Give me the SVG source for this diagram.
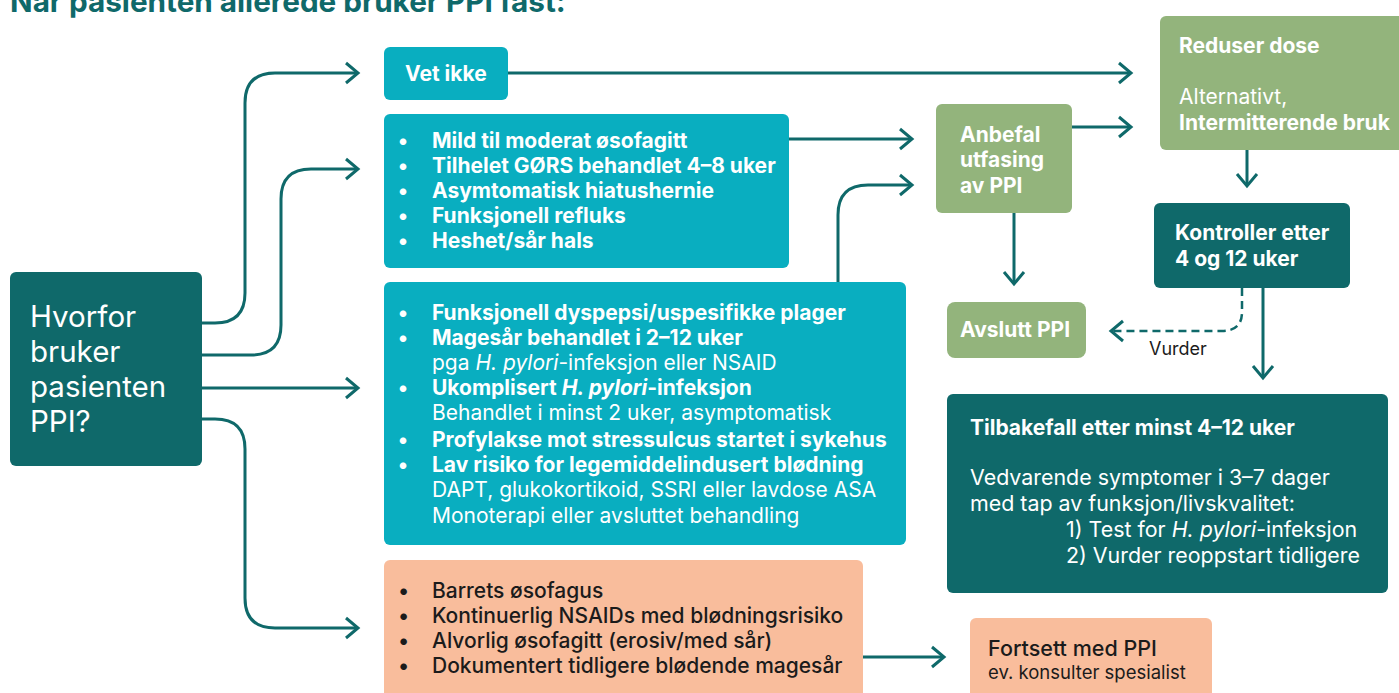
<svg xmlns="http://www.w3.org/2000/svg" width="1399" height="693" viewBox="0 0 1399 693">
<style>
  text { font-family: Inter, "Liberation Sans", sans-serif; }
  .dark { fill: #0f696a; }
  .cyan { fill: #09aec0; }
  .green { fill: #93b47c; }
  .peach { fill: #f9bd9c; }
  .w { fill: #ffffff; }
  .k { fill: #1b1b1b; }
  .b { font-weight: 700; }
  .r { font-weight: 400; }
  .m { font-weight: 500; }
  .i { font-style: italic; }
  .conn { fill: none; stroke: #0f696a; stroke-width: 3; }
  .dash { stroke-dasharray: 8 5; stroke-width: 2.5; }
</style>
<defs>
  <marker id="arr" markerUnits="userSpaceOnUse" viewBox="-15 -13 18 26" markerWidth="18" markerHeight="26" refX="0" refY="0" orient="auto" overflow="visible">
    <path d="M-12,-10 L0,0 L-12,10" fill="none" stroke="#0f696a" stroke-width="3" stroke-linecap="butt" stroke-linejoin="miter"/>
  </marker>
</defs>

<text x="10" y="12" class="b" font-size="29.7" fill="#0f696a">Når pasienten allerede bruker PPI fast:</text>

<g id="connectors">
  <path class="conn" d="M202,323 H215 Q245,323 245,293 V103 Q245,73 275,73 H358" marker-end="url(#arr)"/>
  <path class="conn" d="M202,355 H251 Q281,355 281,325 V199 Q281,169 311,169 H358" marker-end="url(#arr)"/>
  <path class="conn" d="M202,388 H358" marker-end="url(#arr)"/>
  <path class="conn" d="M202,419 H215 Q245,419 245,449 V598 Q245,628 275,628 H358" marker-end="url(#arr)"/>
  <path class="conn" d="M508,73 H1131" marker-end="url(#arr)"/>
  <path class="conn" d="M789,139 H912" marker-end="url(#arr)"/>
  <path class="conn" d="M838,282 V215 Q838,185 868,185 H912" marker-end="url(#arr)"/>
  <path class="conn" d="M1072,127 H1131" marker-end="url(#arr)"/>
  <path class="conn" d="M1247,150 V186" marker-end="url(#arr)"/>
  <path class="conn" d="M1014,213 V284" marker-end="url(#arr)"/>
  <path class="conn" d="M1263,288 V378" marker-end="url(#arr)"/>
  <path class="conn dash" d="M1242,288 V312 Q1242,331 1222,331 H1111" marker-end="url(#arr)"/>
  <path class="conn" d="M863,657 H944" marker-end="url(#arr)"/>
  <text x="1149" y="355" class="r k" font-size="18">Vurder</text>
</g>

<g id="hvorfor">
  <rect x="10" y="272" width="192" height="194" rx="6" class="dark"/>
  <text class="r w" font-size="29.5">
    <tspan x="30" y="327">Hvorfor</tspan>
    <tspan x="30" y="362">bruker</tspan>
    <tspan x="30" y="397">pasienten</tspan>
    <tspan x="30" y="432">PPI?</tspan>
  </text>
</g>

<g id="vet-ikke">
  <rect x="384" y="47" width="124" height="53" rx="6" class="cyan"/>
  <text x="405" y="81" class="b w" font-size="21">Vet ikke</text>
</g>

<g id="gruppe1">
  <rect x="384" y="114" width="405" height="154" rx="6" class="cyan"/>
  <g class="b w" font-size="21">
    <text x="398" y="148">•</text><text x="432" y="148">Mild til moderat øsofagitt</text>
    <text x="398" y="173">•</text><text x="432" y="173">Tilhelet GØRS behandlet 4–8 uker</text>
    <text x="398" y="198">•</text><text x="432" y="198">Asymtomatisk hiatushernie</text>
    <text x="398" y="223">•</text><text x="432" y="223">Funksjonell refluks</text>
    <text x="398" y="248">•</text><text x="432" y="248">Heshet/sår hals</text>
  </g>
</g>

<g id="gruppe2">
  <rect x="384" y="282" width="522" height="263" rx="6" class="cyan"/>
  <g class="w" font-size="21">
    <text x="398" y="320" class="b">•</text><text x="432" y="320" class="b">Funksjonell dyspepsi/uspesifikke plager</text>
    <text x="398" y="345" class="b">•</text><text x="432" y="345" class="b">Magesår behandlet i 2–12 uker</text>
    <text x="432" y="370" class="r">pga <tspan class="i">H. pylori</tspan>-infeksjon eller NSAID</text>
    <text x="398" y="395" class="b">•</text><text x="432" y="395" class="b">Ukomplisert <tspan class="i">H. pylori</tspan>-infeksjon</text>
    <text x="432" y="420" class="r">Behandlet i minst 2 uker, asymptomatisk</text>
    <text x="398" y="447" class="b">•</text><text x="432" y="447" class="b">Profylakse mot stressulcus startet i sykehus</text>
    <text x="398" y="472" class="b">•</text><text x="432" y="472" class="b">Lav risiko for legemiddelindusert blødning</text>
    <text x="432" y="497" class="r">DAPT, glukokortikoid, SSRI eller lavdose ASA</text>
    <text x="432" y="523" class="r">Monoterapi eller avsluttet behandling</text>
  </g>
</g>

<g id="gruppe3">
  <rect x="384" y="560" width="479" height="140" rx="6" class="peach"/>
  <g class="m k" font-size="21">
    <text x="398" y="598">•</text><text x="432" y="598">Barrets øsofagus</text>
    <text x="398" y="623">•</text><text x="432" y="623">Kontinuerlig NSAIDs med blødningsrisiko</text>
    <text x="398" y="648">•</text><text x="432" y="648">Alvorlig øsofagitt (erosiv/med sår)</text>
    <text x="398" y="673">•</text><text x="432" y="673">Dokumentert tidligere blødende magesår</text>
  </g>
</g>

<g id="anbefal">
  <rect x="936" y="104" width="136" height="109" rx="6" class="green"/>
  <text class="b w" font-size="21">
    <tspan x="960" y="142">Anbefal</tspan>
    <tspan x="960" y="167">utfasing</tspan>
    <tspan x="960" y="193">av PPI</tspan>
  </text>
</g>

<g id="reduser">
  <rect x="1160" y="16" width="250" height="134" rx="6" class="green"/>
  <text x="1179" y="53" class="b w" font-size="21">Reduser dose</text>
  <text x="1179" y="104" class="r w" font-size="21">Alternativt,</text>
  <text x="1179" y="130" class="b w" font-size="21">Intermitterende bruk</text>
</g>

<g id="kontroller">
  <rect x="1154" y="203" width="196" height="85" rx="6" class="dark"/>
  <text class="b w" font-size="21">
    <tspan x="1175" y="240">Kontroller etter</tspan>
    <tspan x="1175" y="266">4 og 12 uker</tspan>
  </text>
</g>

<g id="avslutt">
  <rect x="947" y="302" width="139" height="56" rx="8" class="green"/>
  <text x="960" y="337" class="b w" font-size="21">Avslutt PPI</text>
</g>

<g id="tilbakefall">
  <rect x="947" y="394" width="441" height="199" rx="6" class="dark"/>
  <text x="970" y="435" class="b w" font-size="21">Tilbakefall etter minst 4–12 uker</text>
  <g class="r w" font-size="21.4">
    <text x="970" y="485">Vedvarende symptomer i 3–7 dager</text>
    <text x="970" y="511">med tap av funksjon/livskvalitet:</text>
    <text x="1066" y="537">1) Test for <tspan class="i">H. pylori</tspan>-infeksjon</text>
    <text x="1066" y="563">2) Vurder reoppstart tidligere</text>
  </g>
</g>

<g id="fortsett">
  <rect x="970" y="618" width="242" height="80" rx="6" class="peach"/>
  <text x="988" y="656" class="m k" font-size="21.5">Fortsett med PPI</text>
  <text x="988" y="679" class="r k" font-size="18.5">ev. konsulter spesialist</text>
</g>
</svg>
